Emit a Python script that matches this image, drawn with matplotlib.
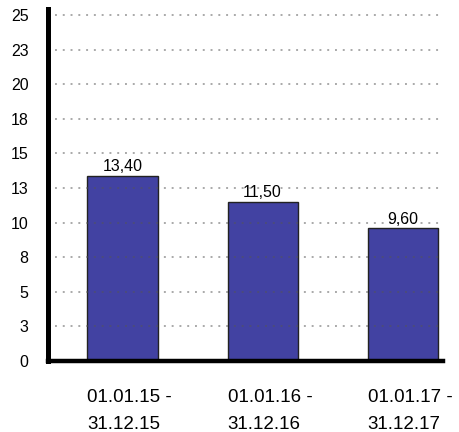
import matplotlib
matplotlib.use('Agg')
import matplotlib.pyplot as plt

plt.rcParams['font.family'] = ['Liberation Sans', 'DejaVu Sans']

# data
periods = ['01.01.15 -\n31.12.15', '01.01.16 -\n31.12.16', '01.01.17 -\n31.12.17']
values = [13.40, 11.50, 9.60]
yticks = [0, 2.5, 5, 7.5, 10, 12.5, 15, 17.5, 20, 22.5, 25]
ytick_labels = ['0', '3', '5', '8', '10', '13', '15', '18', '20', '23', '25']

fig = plt.figure(figsize=(4.59, 4.32), dpi=100)
ax = fig.add_axes([0.1046, 0.1644, 0.8606, 0.8148])

x = list(range(len(values)))
ax.bar(x, values, width=0.5, color='#4242a2', edgecolor='#222222', linewidth=1, zorder=2)

# dotted grid drawn over the bars
ax.hlines(yticks, -0.48, 2.27, colors='#555555', alpha=0.5,
          linewidth=1.4, linestyles=(0, (1, 3)), zorder=3)

for xi, v in zip(x, values):
    ax.text(xi, v + 0.1, ('%.2f' % v).replace('.', ','), ha='center', va='bottom',
            fontsize=11.5, zorder=4)

for xi, lab in zip(x, periods):
    ax.text(xi - 0.25, -2.05, lab, ha='left', va='top', fontsize=13.5,
            linespacing=1.72, transform=ax.transData)

ax.set_xlim(-0.532, 2.289)
ax.set_ylim(0, 25.43)
ax.set_xticks([])
ax.set_yticks(yticks)
ax.set_yticklabels(ytick_labels, fontsize=11.5)
ax.tick_params(axis='y', length=0, pad=14)

for s in ['top', 'right']:
    ax.spines[s].set_visible(False)
ax.spines['left'].set_linewidth(3.6)
ax.spines['bottom'].set_linewidth(3.2)
ax.spines['left'].set_zorder(5)
ax.spines['bottom'].set_zorder(5)

fig.savefig('out.png', dpi=100)
